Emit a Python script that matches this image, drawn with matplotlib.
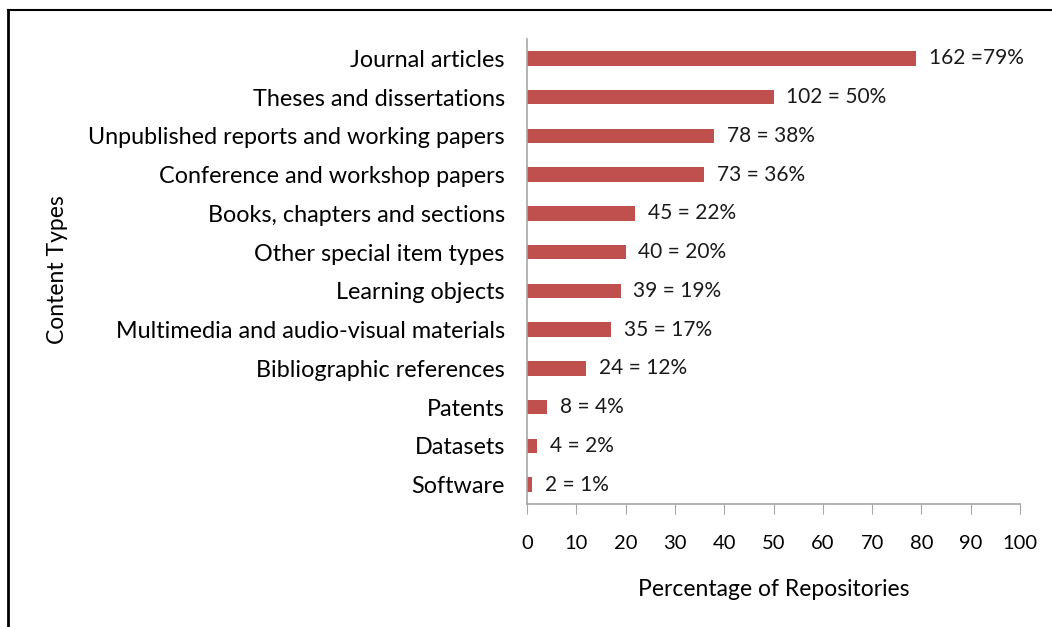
import matplotlib.pyplot as plt
from matplotlib.lines import Line2D

kategorie = [
    "Journal articles",
    "Theses and dissertations",
    "Unpublished reports and working papers",
    "Conference and workshop papers",
    "Books, chapters and sections",
    "Other special item types",
    "Learning objects",
    "Multimedia and audio-visual materials",
    "Bibliographic references",
    "Patents",
    "Datasets",
    "Software",
]
liczba = [162, 102, 78, 73, 45, 40, 39, 35, 24, 8, 4, 2]
procent = [79, 50, 38, 36, 22, 20, 19, 17, 12, 4, 2, 1]
etykiety = ["162 =79%"] + [f"{n} = {p}%" for n, p in zip(liczba[1:], procent[1:])]

plt.rcParams["font.family"] = ["Lato", "DejaVu Sans"]
szary = "#A6A6A6"

fig = plt.figure(figsize=(10.52, 6.27), dpi=100)
ax = fig.add_axes([527 / 1052, 1 - 504 / 627, 493 / 1052, 465 / 627])

y = list(range(len(kategorie)))
ax.barh(y, procent, height=0.37, color="#C0504D")
for yi, p, t in zip(y, procent, etykiety):
    ax.text(p + 2.6, yi, t, va="center", ha="left", fontsize=15, color="#1a1a1a")

ax.set_yticks(y)
ax.set_yticklabels(kategorie, fontsize=16.8)
ax.set_ylim(len(kategorie) - 0.5, -0.5)
ax.set_xlim(0, 100)
ax.set_xticks(range(0, 101, 10))
ax.tick_params(axis="x", labelsize=14.5, length=7, color=szary, pad=15, direction="out")
ax.tick_params(axis="y", length=0, pad=16)

for s in ["top", "right"]:
    ax.spines[s].set_visible(False)
for s in ["left", "bottom"]:
    ax.spines[s].set_color(szary)
    ax.spines[s].set_linewidth(1.2)

ax.set_xlabel("Percentage of Repositories", fontsize=16.5, labelpad=20)
ax.set_ylabel("Content Types", fontsize=16.5)
ax.yaxis.set_label_coords(68 / 1052, (627 - 270) / 627, transform=fig.transFigure)

# ramka wokol wykresu
fig.add_artist(Line2D([8 / 1052, 8 / 1052], [0, 1 - 10 / 627], color="black", lw=2, transform=fig.transFigure))
fig.add_artist(Line2D([8 / 1052, 1], [1 - 10 / 627, 1 - 10 / 627], color="black", lw=1.5, transform=fig.transFigure))

fig.savefig("out.png", dpi=100)
